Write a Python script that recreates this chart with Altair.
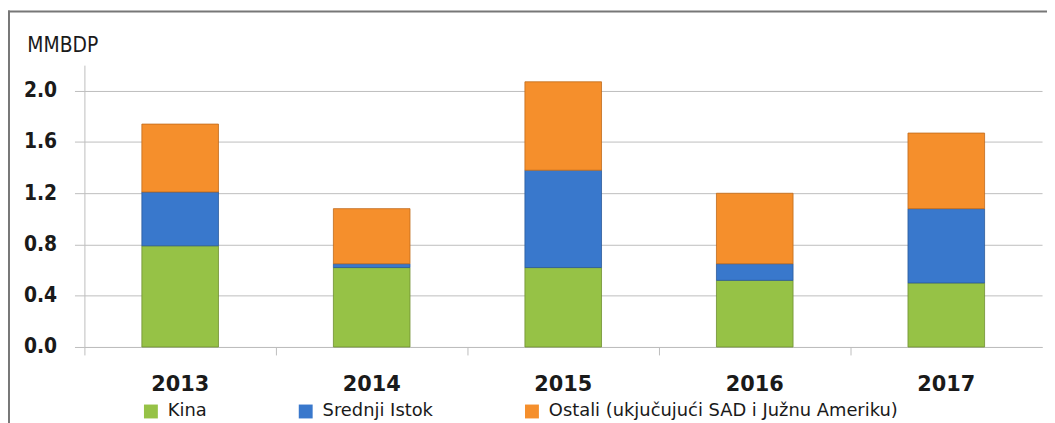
import altair as alt
import pandas as pd

years = ["2013", "2014", "2015", "2016", "2017"]
series = ["Kina", "Srednji Istok", "Ostali (ukjučujući SAD i Južnu Ameriku)"]
kina = [0.79, 0.62, 0.62, 0.52, 0.50]
srednji = [0.42, 0.03, 0.76, 0.13, 0.58]
ostali = [0.53, 0.43, 0.69, 0.55, 0.59]
colors = ["#96c246", "#3978cc", "#f58f2c"]
edges = ["#6f8f30", "#2a5a9a", "#c06a1a"]
y_ticks = [0.0, 0.4, 0.8, 1.2, 1.6, 2.0]

rows = []
for vals, s, o in zip([kina, srednji, ostali], series, [0, 1, 2]):
    for y, v in zip(years, vals):
        rows.append({"year": y, "series": s, "value": v, "ord": o})
df = pd.DataFrame(rows)

COND = "DejaVu Sans Condensed, DejaVu Sans"
REG = "DejaVu Sans"
GRID = "#bdbdbd"

xscale = alt.Scale(domain=years, paddingInner=0, paddingOuter=0)

bars = alt.Chart(df).mark_bar(width=alt.RelativeBandSize(0.4), strokeWidth=0.8).encode(
    x=alt.X("year:N", scale=xscale, sort=years,
            axis=alt.Axis(orient="bottom", title=None, labelAngle=0, ticks=False,
                          labelFontSize=21, labelFontWeight="bold", labelFont=REG,
                          labelColor="#1a1a1a", labelPadding=27, domainColor=GRID)),
    y=alt.Y("value:Q", stack="zero", scale=alt.Scale(domain=[0, 2.2], nice=False),
            axis=alt.Axis(values=y_ticks, format=".1f", title="MMBDP", titleAngle=0,
                          titleAlign="left", titleBaseline="alphabetic", titleX=-58, titleY=-14,
                          titleFontSize=21, titleFontWeight="normal", titleFont=COND,
                          titleColor="#1a1a1a", labelFontSize=21, labelFontWeight="bold",
                          labelFont=COND, labelColor="#1a1a1a", labelPadding=18,
                          tickSize=10, tickColor=GRID, domainColor=GRID, gridColor=GRID)),
    color=alt.Color("series:N", scale=alt.Scale(domain=series, range=colors), sort=series,
                    legend=alt.Legend(orient="none", legendX=58, legendY=340, direction="horizontal",
                                      title=None, symbolType="square", symbolSize=196,
                                      symbolStrokeWidth=0, labelFontSize=18, labelFont=REG,
                                      labelColor="#1a1a1a", columnPadding=90, labelOffset=8,
                                      labelLimit=500, padding=0)),
    stroke=alt.Stroke("series:N", scale=alt.Scale(domain=series, range=edges), legend=None),
    order=alt.Order("ord:Q"),
)

ticks = alt.Chart(df).mark_bar(opacity=0).encode(
    x=alt.X("year:N", scale=xscale, sort=years,
            axis=alt.Axis(orient="bottom", title=None, labels=False, ticks=True, tickSize=8,
                          bandPosition=0, domain=False, tickColor=GRID, grid=False)),
    y=alt.Y("value:Q"),
)

frame_df = pd.DataFrame({"k": [0]})
top_line = alt.Chart(frame_df).mark_rule(color="#777777", strokeWidth=2).encode(
    x=alt.value(-77), x2=alt.value(975), y=alt.value(-54))
left_line = alt.Chart(frame_df).mark_rule(color="#777777", strokeWidth=2).encode(
    x=alt.value(-76), y=alt.value(-55), y2=alt.value(400))

chart = alt.layer(bars, ticks, top_line, left_line).resolve_axis(x="independent").properties(
    width=965, height=284, autosize="none",
    padding={"left": 77, "top": 56, "right": 5, "bottom": 75},
).configure_view(stroke=None)

chart.save("out.html", embed_options={"renderer": "svg", "actions": False})
